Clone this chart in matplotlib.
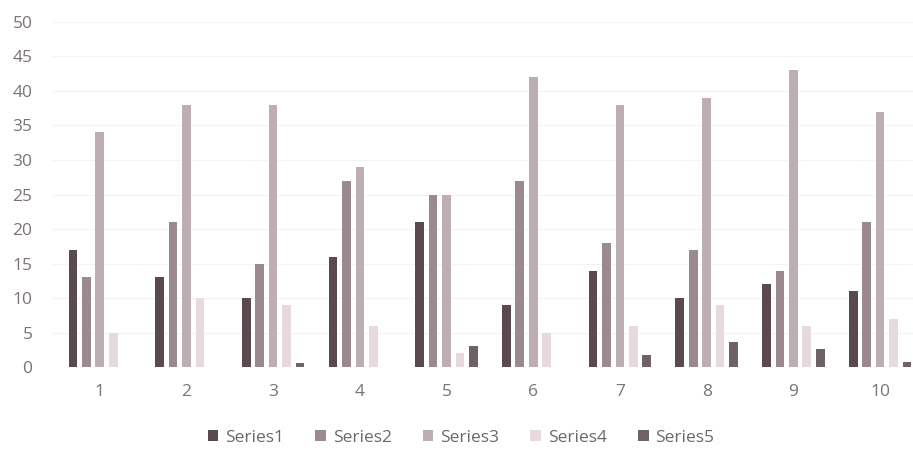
import numpy as np
import matplotlib.pyplot as plt

plt.rcParams['font.family'] = ['Open Sans', 'DejaVu Sans']

# data
categories = ['1', '2', '3', '4', '5', '6', '7', '8', '9', '10']
series_names = ['Series1', 'Series2', 'Series3', 'Series4', 'Series5']
series1 = [17, 13, 10, 16, 21, 9, 14, 10, 12, 11]
series2 = [13, 21, 15, 27, 25, 27, 18, 17, 14, 21]
series3 = [34, 38, 38, 29, 25, 42, 38, 39, 43, 37]
series4 = [5, 10, 9, 6, 2, 5, 6, 9, 6, 7]
series5 = [0, 0, 0.6, 0, 3, 0, 1.8, 3.6, 2.7, 0.7]

colors = ['#5a4a50', '#9a8a90', '#bcaeb3', '#e6dadd', '#6e6267']

fig = plt.figure(figsize=(9.13, 4.66), dpi=100)
ax = fig.add_axes([0.057, 0.212, 0.943, 0.741])

x = np.arange(1, len(categories) + 1)
pitch = 0.155
width = 0.10
all_series = [series1, series2, series3, series4, series5]
for i, vals in enumerate(all_series):
    ax.bar(x + (i - 2) * pitch, vals, width, color=colors[i], label=series_names[i], zorder=2)

ax.set_ylim(0, 50)
ax.set_xlim(0.45, 10.38)
ax.set_yticks(range(0, 51, 5))
ax.set_xticks(x)
ax.set_xticklabels(categories)
ax.tick_params(length=0, labelsize=12.5, colors='#7a7276')
ax.tick_params(axis='x', pad=12)
ax.tick_params(axis='y', pad=14)
for s in ax.spines.values():
    s.set_visible(False)
ax.grid(axis='y', color='#f5f2f3', linewidth=0.8, zorder=0)

leg = fig.legend(loc='center', bbox_to_anchor=(0.505, 0.06), ncol=5, frameon=False,
                 fontsize=12.5, handlelength=0.6, handleheight=0.6, columnspacing=1.8,
                 handletextpad=0.4)
for t in leg.get_texts():
    t.set_color('#6e666a')

fig.savefig('out.png', dpi=100)
